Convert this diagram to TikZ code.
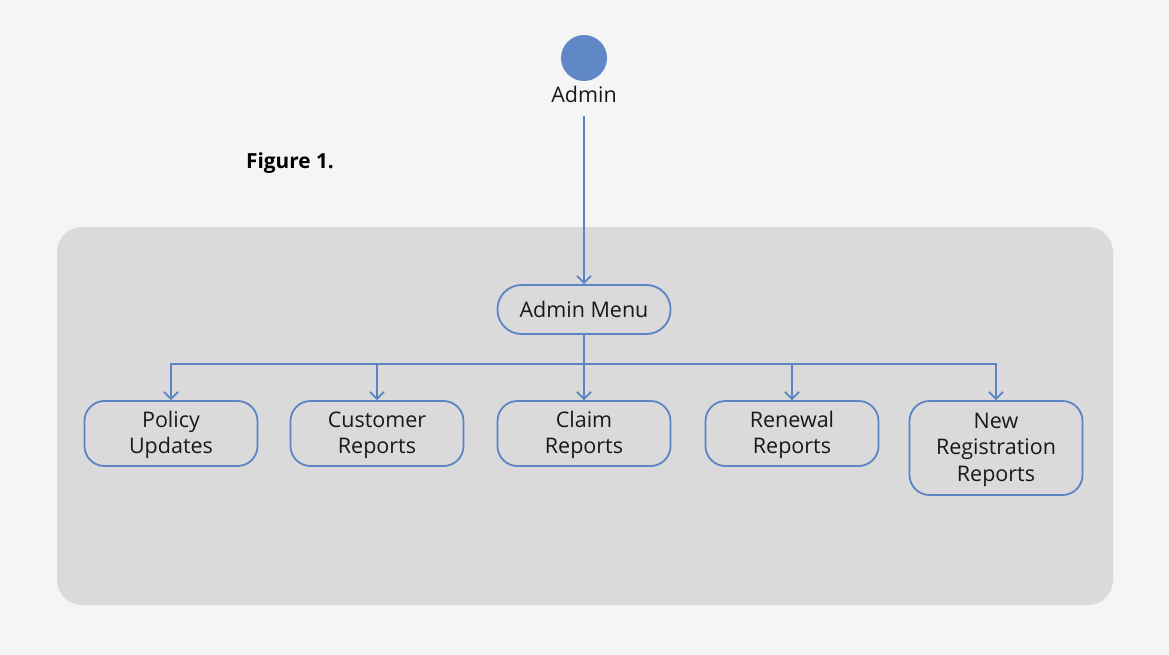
\documentclass[tikz,border=0pt]{standalone}
\usepackage{fontspec}
\setmainfont{Open Sans}
\usetikzlibrary{arrows.meta}
\definecolor{bgc}{HTML}{F5F5F5}
\definecolor{panel}{HTML}{DADADA}
\definecolor{bluef}{HTML}{6088C6}
\definecolor{blues}{HTML}{5B84C4}
\begin{document}
\begin{tikzpicture}[x=1pt,y=-1pt,
  txt/.style={font=\fontsize{21.5}{26.5}\selectfont,text=black!90},
  box/.style={draw=blues,line width=1.8pt,rounded corners=20pt,minimum width=173pt,minimum height=65pt,align=center,inner sep=0pt,txt},
  conn/.style={draw=blues,line width=1.8pt,-{Straight Barb[length=7pt,width=14pt,line width=1.8pt]}}]
\fill[bgc] (0,0) rectangle (1169,655);
\useasboundingbox (0,0) rectangle (1169,655);
\path[fill=panel,rounded corners=25pt] (57,227) rectangle (1113,605);
\node[circle,fill=bluef,minimum size=46pt,inner sep=0pt] (admin) at (584,58) {};
\node[txt,inner sep=0pt] (adminlbl) at (584,94) {Admin};
\node[anchor=west,font=\fontsize{20.8}{26}\selectfont\bfseries,inner sep=0pt] (fig) at (246,163) {Figure 1.};
\coordinate (start) at (584,116);
\node[box,rounded corners=24pt,minimum height=49pt] (menu) at (584,309.5) {\rule{0pt}{17pt}Admin Menu};
\node[box] (p1) at (171,433.5) {\rule{0pt}{19pt}Policy\\Updates};
\node[box] (p2) at (377,433.5) {\rule{0pt}{19pt}Customer\\Reports};
\node[box] (p3) at (584,433.5) {\rule{0pt}{19pt}Claim\\Reports};
\node[box] (p4) at (792,433.5) {\rule{0pt}{19pt}Renewal\\Reports};
\node[box,minimum height=94pt] (p5) at (996,448) {\rule{0pt}{19pt}New\\Registration\\Reports};
\coordinate (bus) at (584,364);
\draw[conn] (start) -- (menu.north);
\foreach \n in {p1,p2,p4,p5}{\draw[conn] (menu.south) -- (bus) -| (\n.north);}
\draw[conn] (menu.south) -- (p3.north);
\end{tikzpicture}
\end{document}
